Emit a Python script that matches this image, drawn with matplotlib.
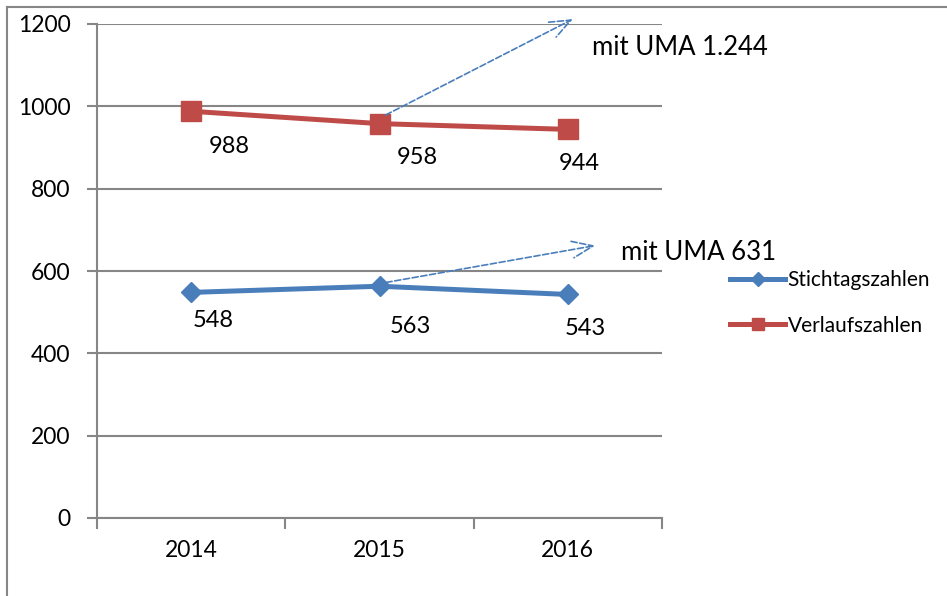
import matplotlib
matplotlib.use("Agg")
import matplotlib.pyplot as plt
from matplotlib.lines import Line2D

plt.rcParams['font.family'] = ['Lato', 'DejaVu Sans']

years = ['2014', '2015', '2016']
stichtag = [548, 563, 543]
verlauf = [988, 958, 944]
uma_labels = ['mit UMA 1.244', 'mit UMA 631']

# pixel offsets of the value labels (as in the reference)
verlauf_off = [(38, -35), (38, -34), (11, -34)]
stichtag_off = [(22, -28), (31, -40), (17, -34)]

grey = '#868686'
blue = '#4A7EBB'
red = '#BE4B48'

fig = plt.figure(figsize=(9.47, 5.96), dpi=100)
ax = fig.add_axes([97 / 947, 1 - 518 / 596, 565 / 947, 494 / 596])

x = list(range(len(years)))
ax.plot(x, stichtag, color=blue, lw=3.6, marker='D', ms=10.5, zorder=3)
ax.plot(x, verlauf, color=red, lw=3.6, marker='s', ms=14, zorder=3)

for i in x:
    ax.annotate(str(verlauf[i]), (i, verlauf[i]), xytext=verlauf_off[i],
                textcoords='offset pixels', ha='center', va='center', fontsize=17)
    ax.annotate(str(stichtag[i]), (i, stichtag[i]), xytext=stichtag_off[i],
                textcoords='offset pixels', ha='center', va='center', fontsize=17)

# dashed "mit UMA" arrows
arrow = dict(arrowstyle='->,head_length=1.5,head_width=0.6', color=blue, lw=1.2, ls='--')
ax.annotate('', xy=(2.04, 1215), xytext=(1.02, 976), annotation_clip=False, arrowprops=arrow)
ax.annotate('', xy=(2.16, 663), xytext=(1.02, 571), annotation_clip=False, arrowprops=arrow)
ax.text(2.13, 1142, uma_labels[0], fontsize=18.5, va='center', clip_on=False)
ax.text(2.28, 644, uma_labels[1], fontsize=18.5, va='center', clip_on=False)

ax.set_xlim(-0.5, 2.5)
ax.set_ylim(0, 1200)
ax.set_yticks(range(0, 1201, 200))
ax.set_xticks(x)
ax.set_xticklabels(years)
ax.set_xticks([-0.5, 0.5, 1.5, 2.5], minor=True)
ax.tick_params(axis='x', which='major', length=0, pad=16, labelsize=16.5)
ax.tick_params(axis='x', which='minor', length=8, width=1.5, color=grey)
ax.tick_params(axis='y', length=7, width=1.5, color=grey, pad=12, labelsize=16.5)
ax.grid(axis='y', color=grey, lw=1.5)
ax.set_axisbelow(True)
for s in ['top', 'right']:
    ax.spines[s].set_visible(False)
for s in ['left', 'bottom']:
    ax.spines[s].set_color(grey)
    ax.spines[s].set_linewidth(1.5)

handles = [Line2D([], [], color=blue, lw=3.6, marker='D', ms=7),
           Line2D([], [], color=red, lw=3.6, marker='s', ms=9)]
fig.legend(handles, ['Stichtagszahlen', 'Verlaufszahlen'], loc='center left',
           bbox_to_anchor=(730 / 947, 1 - 303 / 596), frameon=False,
           borderpad=0, borderaxespad=0,
           fontsize=15, handlelength=2.65, handletextpad=0.12, labelspacing=1.2)

# outer chart frame (only left and top edge visible)
fig.add_artist(Line2D([7 / 947, 7 / 947], [0, 1 - 7 / 596], color=grey, lw=1.5))
fig.add_artist(Line2D([7 / 947, 1], [1 - 7 / 596, 1 - 7 / 596], color=grey, lw=1.5))

fig.savefig('out.png', dpi=100)
